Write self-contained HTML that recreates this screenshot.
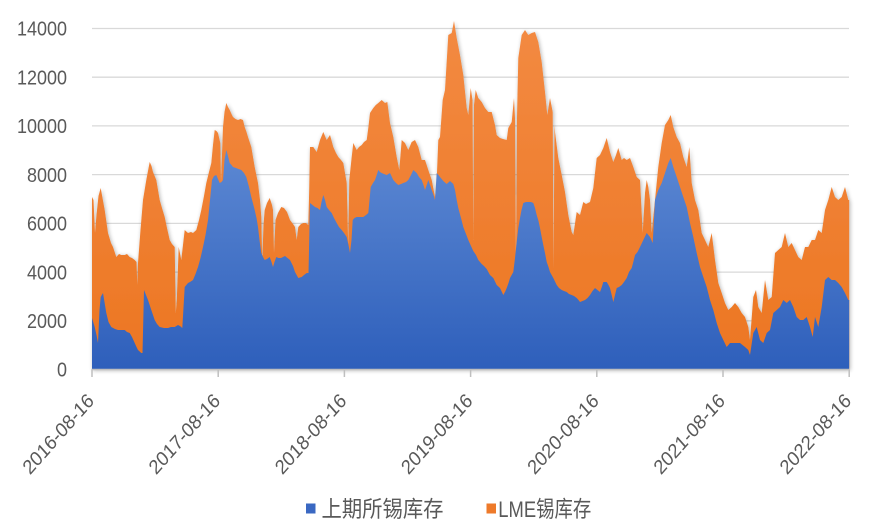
<!DOCTYPE html>
<html><head><meta charset="utf-8">
<style>
html,body{margin:0;padding:0;background:#fff;}
svg{display:block;}
text{font-family:"Liberation Sans","Noto Sans CJK SC",sans-serif;fill:#595959;}
</style></head>
<body>
<svg width="874" height="525" viewBox="0 0 874 525" xmlns="http://www.w3.org/2000/svg">
<defs>
<linearGradient id="gb" gradientUnits="userSpaceOnUse" x1="0" y1="150" x2="0" y2="369">
<stop offset="0" stop-color="#5c88d3"/><stop offset="1" stop-color="#2e5fbb"/>
</linearGradient>
<linearGradient id="go" gradientUnits="userSpaceOnUse" x1="0" y1="20" x2="0" y2="369">
<stop offset="0" stop-color="#f38a42"/><stop offset="1" stop-color="#ec7622"/>
</linearGradient>
<filter id="sh" x="-5%" y="-5%" width="110%" height="110%">
<feGaussianBlur in="SourceAlpha" stdDeviation="2"/>
<feOffset dx="1" dy="1" result="b"/>
<feComponentTransfer><feFuncA type="linear" slope="0.3"/></feComponentTransfer>
<feMerge><feMergeNode/><feMergeNode in="SourceGraphic"/></feMerge>
</filter>
</defs>
<g stroke="#d9d9d9" stroke-width="1.3">
<line x1="92" y1="28.5" x2="849" y2="28.5"/>
<line x1="92" y1="77.2" x2="849" y2="77.2"/>
<line x1="92" y1="125.9" x2="849" y2="125.9"/>
<line x1="92" y1="174.6" x2="849" y2="174.6"/>
<line x1="92" y1="223.4" x2="849" y2="223.4"/>
<line x1="92" y1="272.1" x2="849" y2="272.1"/>
<line x1="92" y1="320.8" x2="849" y2="320.8"/>
</g>
<g filter="url(#sh)">
<polygon fill="url(#go)" points="92,369.5 92,197 93.5,200 95,233 96.5,215 98.5,196 100.7,188 102.5,198 104.7,210 108,233 111,243 113,247 116.3,257 119,254 121.3,255 124.7,255 127,254 129.7,257 132,258 134.7,260 136.5,262 137.3,285 138,263 140.5,230 143,200 146.3,180 149.7,162 151.5,166 153,172 156.3,180 158,190 159.7,200 162,208 164.7,217 167,228 169.7,240 172,244 174.7,247 175.8,313 176.8,300 178.7,247 181.3,260 184.7,230 188,233 191,232 193,233 196.3,230 199,220 201.3,210 204,196 206.3,183 209,172 211.3,163 213,145 214.7,130 216.5,131 218,133 220.3,143 221,183 221.8,160 223,127 224.5,112 226.3,103 228,107 229.7,110 231.5,114 233,117 235.5,119 238,120 240.5,119 243,120 244.7,127 246.5,132 248,137 251.3,147 253,157 254.7,167 258,183 260,200 261.3,217 262.2,263 263.5,225 264.7,210 267,203 269.7,198 272,205 273,210 274,253 275.5,220 278,213 281.3,207 284,208 287,212 290,220 293,224 295,227 296.7,240 298.3,227 301,224 303.3,223 306,223 308.3,225 309.2,190 310,147 313.3,147 316.7,152 320,140 323.3,132 326.7,140 330,135 333.3,147 336,153 338.3,157 341,160 343.3,163 346.7,183 348.2,245 349.3,180 351.7,157 353.3,143 356.7,150 359,147 361.7,145 364,142 366.7,140 368.3,128 370,113 373.3,108 375.8,105 378.3,103 381.7,100 385,103 387.3,102 390,123 393.3,137 396.7,157 399.3,170 401.7,140 405,143 408.3,150 411.7,142 415,140 418.3,147 421.7,160 425,160 428.3,170 431.7,180 435,197 436.5,185 438.3,140 440,137 442.7,100 445,90 448.3,35 451.7,33 454,21 456.7,38 460,55 463.3,75 466.7,108 468.3,115 470.7,88 472.5,100 473.3,240 474,105 475.7,90 478.3,98 481.7,102 485,108 488.3,112 491.7,112 495,125 496.7,135 500,138 503,139 506.7,140 508.3,128 511.7,122 514,98 515,118 516,270 517,118 518.3,58 521.7,35 525,30 528.3,35 531.7,33 535,32 538.3,42 541.7,62 545,92 547.3,115 550,98 552.7,112 553.5,270 554.5,125 555,132 558.3,158 561.7,175 565,192 568.3,215 571.7,232 573.3,235 576.7,212 580,215 583.3,202 586,204 590,202 593.3,188 596.7,158 600,155 603.3,148 606.7,138 610,152 613.3,162 616,155 618.3,148 621.7,160 624,158 626.7,160 630,158 633.3,167 636.7,177 640,180 642.7,233 645,193 646.7,180 648.3,187 650,200 651.7,233 653.3,217 656,190 658.3,167 661.7,143 665,125 668.3,120 670.7,115 673.3,127 676.7,137 680,143 683.3,157 686.7,167 689.3,147 691.7,183 695,200 698.3,210 701.7,233 705,240 708.3,247 711.7,233 715,260 718.3,283 721.7,293 725,303 728.3,310 731.7,307 735,303 738.3,307 741.7,313 745,317 748.3,327 750,340 753.3,297 756,290 758.3,307 761.7,313 765,280 768.3,300 771.7,297 775,253 778.3,250 781.7,247 785,233 788.3,247 791.7,243 795,250 798.3,257 801.7,260 805,247 808.3,247 811.7,240 815,240 818.3,230 821.7,233 825,210 828.3,200 831.7,187 835,197 838.3,200 841.7,197 845,187 848.3,200 849.2,200 849.2,369.5"/>
</g>
<polygon fill="url(#gb)" points="92,369.5 92,318 94.7,327 96.5,335 98,343 99.5,310 100.7,297 103,293 106.3,313 108.5,322 111.3,327 115,329 118,330 121,330 124.7,330 127,332 129.7,333 132,337 134.7,343 136.5,347 138,350 141.3,353 142.5,353 144,290 146,295 148,300 151.3,310 154.7,320 157,324 159.7,327 164,328 168,328 171,327 174.7,327 178,325 180,326 182.3,328 184.7,287 188,283 190,282 193,280 195.5,274 198,267 200.5,258 203,247 205.5,235 208,220 210,200 212,180 214,176 216.3,175 218,179 219.7,183 221.5,182 223,180 224.5,160 226.3,150 228,156 229.7,163 231.5,165 233,167 236,168 238.5,169 241.3,170 244,173 246.3,177 249,187 251.3,197 254.7,210 256.5,218 258,227 259.5,240 261.3,253 263,257 264.7,260 267,259 269.7,257 271.5,262 273,267 274.5,262 276.3,257 278.5,258 281,258 285,256 290,260 293,266 295,272 298.3,278 301.7,277 304,275 306.7,273 308.5,273 310,203 312.5,205 315,207 317.5,208 320,210 321.5,202 323.3,195 325,200 326.7,207 329,210 331.7,213 334,218 336.7,223 339,227 341.7,230 344,233 346.7,237 348.5,245 350,253 351.5,240 352.7,220 354.5,218 356.7,217 360,217 363.3,217 366,215 368.3,213 370.7,187 373,183 375,180 376.7,175 378.3,170 380,172 381.7,173 384,174 386.7,175 390,173 393.3,180 396,183 398.3,185 401,184 403.3,183 406,182 408.3,180 411,175 413.3,170 416.7,173 419,177 421.7,180 423.5,185 425,190 426.7,185 428.3,180 430,185 431.7,190 433.5,195 435,200 436.7,173 438.5,175 440,177 443.3,181 446.7,184 450,181 453.3,184 455,190 456.7,200 458.3,208 461,218 463.3,227 466,234 468.3,240 471,246 473.3,251 476,255 478.3,260 481.7,264 484,266 486.7,269 490,275 493.3,278 496.7,285 500,288 503.3,295 505,292 506.7,288 508.5,283 510,278 513.3,272 515,258 516.7,242 518.3,228 520,218 521.5,210 523.3,203 526,202 528.3,202 531,202 533.3,203 535,208 536.7,215 538.5,221 540,228 541.7,237 543.3,245 545,253 546.7,262 548.5,267 550,272 553.3,278 556.7,285 559,288 561.7,290 564,291 566.7,292 569,294 571.7,295 574,296 576.7,298 578.5,300 580,302 582.5,301 585,300 587.5,298 590,295 592.5,291 595,288 597.5,290 600,292 601.8,287 603.3,282 605,282 606.7,282 608.5,285 610,288 611.7,295 613.3,302 615,295 616.7,288 619,287 621.7,285 624,282 626.7,278 629,272 631.7,268 633.3,262 635,255 637.5,252 640,247 643.3,240 646.7,233 650,237 652.7,243 655,200 658.3,190 661.7,183 665,173 668.3,163 670.7,158 673.3,167 676.7,177 680,187 683.3,197 686.7,207 690,223 693.3,237 696.7,253 700,267 703.3,277 706.7,287 710,300 713.3,310 716.7,323 720,333 723.3,340 726.7,347 730,343 735,343 740,343 745,347 748.3,350 750,355 753.3,333 756.7,327 760,340 763.3,343 766.7,333 770,330 773.3,313 776.7,310 780,307 783.3,300 786.7,303 790,300 793.3,307 796.7,317 800,320 803.3,320 806.7,317 810,327 812.7,337 815,317 818.3,327 821.7,307 825,280 828.3,277 831.7,280 835,280 838.3,283 841.7,287 845,293 848.3,300 849.2,300 849.2,369.5"/>
<g stroke="#bfbfbf" stroke-width="1.5">
<line x1="91.5" y1="369.5" x2="849.5" y2="369.5"/>
<line x1="92" y1="369.5" x2="92" y2="377"/>
<line x1="218.2" y1="369.5" x2="218.2" y2="377"/>
<line x1="344.4" y1="369.5" x2="344.4" y2="377"/>
<line x1="470.6" y1="369.5" x2="470.6" y2="377"/>
<line x1="596.8" y1="369.5" x2="596.8" y2="377"/>
<line x1="723" y1="369.5" x2="723" y2="377"/>
<line x1="849.2" y1="369.5" x2="849.2" y2="377"/>
</g>
<g font-size="18" text-anchor="end">
<text transform="translate(67,35.7) scale(1,1.13)">14000</text>
<text transform="translate(67,84.4) scale(1,1.13)">12000</text>
<text transform="translate(67,133.1) scale(1,1.13)">10000</text>
<text transform="translate(67,181.8) scale(1,1.13)">8000</text>
<text transform="translate(67,230.6) scale(1,1.13)">6000</text>
<text transform="translate(67,279.3) scale(1,1.13)">4000</text>
<text transform="translate(67,328) scale(1,1.13)">2000</text>
<text transform="translate(67,376.7) scale(1,1.13)">0</text>
</g>
<g font-size="18" text-anchor="end">
<text transform="translate(95,402) scale(1,1.13) rotate(-45)">2016-08-16</text>
<text transform="translate(221.2,402) scale(1,1.13) rotate(-45)">2017-08-16</text>
<text transform="translate(347.4,402) scale(1,1.13) rotate(-45)">2018-08-16</text>
<text transform="translate(473.6,402) scale(1,1.13) rotate(-45)">2019-08-16</text>
<text transform="translate(599.8,402) scale(1,1.13) rotate(-45)">2020-08-16</text>
<text transform="translate(726,402) scale(1,1.13) rotate(-45)">2021-08-16</text>
<text transform="translate(852.2,402) scale(1,1.13) rotate(-45)">2022-08-16</text>
</g>
<rect x="306" y="503.5" width="9.5" height="10" fill="#3a68c2"/>
<text transform="translate(321.5,517) scale(1,1.13)" font-size="20" textLength="122" lengthAdjust="spacingAndGlyphs">上期所锡库存</text>
<rect x="486.5" y="503.5" width="9.5" height="10" fill="#ee7a2a"/>
<text transform="translate(498.3,517) scale(1,1.13)" font-size="20" textLength="93" lengthAdjust="spacingAndGlyphs">LME锡库存</text>
</svg>
</body></html>
